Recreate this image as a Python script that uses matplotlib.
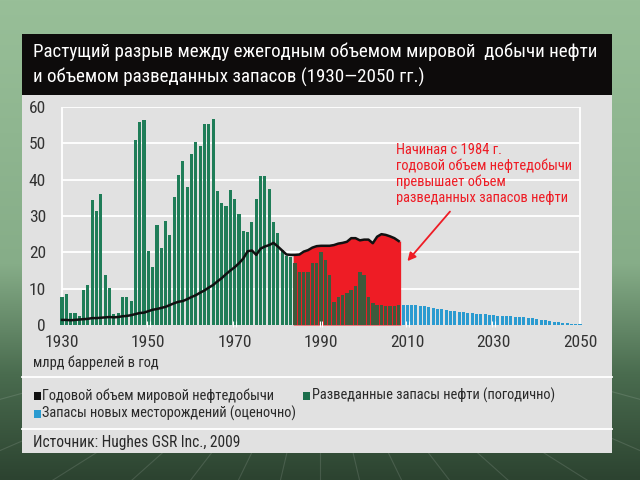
import numpy as np
import matplotlib
matplotlib.use("Agg")
import matplotlib.pyplot as plt
from matplotlib import font_manager
from matplotlib.ft2font import FT2Font
from matplotlib.patches import Rectangle
from matplotlib.colors import LinearSegmentedColormap

# ---------------- data ----------------
years_hist = list(range(1930, 1984))
reserves_hist = [7.6, 8.5, 3.2, 3.2, 2.5, 9.5, 11.0, 34.5, 31.4, 36.1,
                 13.8, 10.1, 2.9, 3.4, 7.6, 7.8, 6.5, 51.0, 55.9, 56.4,
                 20.3, 16.1, 27.4, 21.1, 28.7, 24.8, 35.1, 41.3, 45.0, 38.0,
                 47.2, 50.3, 49.4, 55.3, 55.4, 56.8, 36.8, 33.7, 32.8, 37.2,
                 34.7, 30.6, 26.0, 25.6, 28.3, 34.7, 41.1, 41.1, 37.5, 28.3,
                 25.3, 20.7, 19.1, 18.8]
years_gap = list(range(1984, 2009))
reserves_gap = [17.0, 14.7, 14.7, 14.7, 17.0, 17.0, 20.2, 17.9, 13.8, 6.4,
                7.8, 8.3, 8.7, 9.6, 10.6, 14.7, 13.8, 7.8, 6.0, 5.5,
                5.5, 5.3, 5.3, 5.3, 5.5]
years_prod = list(range(1930, 2009))
production = [1.4, 1.4, 1.3, 1.4, 1.5, 1.6, 1.7, 1.9, 1.9, 2.0,
              2.1, 2.2, 2.1, 2.2, 2.4, 2.5, 2.7, 3.0, 3.3, 3.4,
              3.8, 4.2, 4.4, 4.7, 5.0, 5.5, 6.0, 6.4, 6.6, 7.1,
              7.7, 8.2, 8.9, 9.5, 10.3, 11.0, 12.0, 12.9, 14.0, 15.0,
              15.9, 17.0, 18.3, 20.3, 20.5, 19.3, 21.0, 21.6, 22.0, 22.6,
              21.6, 20.5, 19.4, 19.3,
              19.3, 19.4, 20.2, 20.6, 21.3, 21.7, 21.8, 21.8, 21.8, 22.0,
              22.4, 22.6, 22.9, 23.9, 23.9, 23.3, 23.5, 23.5, 22.5, 24.3,
              25.0, 24.8, 24.4, 23.9, 23.1]
years_new = list(range(2009, 2051))
new_fields = [5.5, 5.6, 5.6, 5.5, 5.3, 5.1, 4.9, 4.7, 4.5, 4.3,
              4.1, 3.9, 3.8, 3.6, 3.5, 3.3, 3.2, 3.1, 3.0, 2.9,
              2.8, 2.7, 2.6, 2.5, 2.4, 2.4, 2.3, 2.2, 2.1, 2.0,
              1.9, 1.7, 1.5, 1.3, 1.1, 0.9, 0.7, 0.6, 0.5, 0.4,
              0.3, 0.2]
x_ticks = [1930, 1950, 1970, 1990, 2010, 2030, 2050]
y_ticks = [0, 10, 20, 30, 40, 50, 60]

title_lines = ["Растущий разрыв между ежегодным объемом мировой  добычи нефти",
               "и объемом разведанных запасов (1930—2050 гг.)"]
note_lines = ["Начиная с 1984 г.", "годовой объем нефтедобычи",
              "превышает объем", "разведанных запасов нефти"]
unit_label = "млрд баррелей в год"
legend_labels = ["Годовой объем мировой нефтедобычи",
                 "Разведанные запасы нефти (погодично)",
                 "Запасы новых месторождений (оценочно)"]
source = "Источник: Hughes GSR Inc., 2009"

# ---------------- font choice ----------------
prefs = ["Roboto Condensed", "PT Sans Narrow", "Fira Sans Condensed",
         "IBM Plex Sans Condensed", "Open Sans Condensed", "Sofia Sans Condensed",
         "Liberation Sans Narrow", "Arimo Narrow", "Oswald"]
cands = {}
for f in font_manager.fontManager.ttflist:
    if f.style == "normal" and f.weight in (400, "normal", "regular"):
        cands.setdefault(f.name, f.fname)
chosen = None
for p in prefs:
    if p in cands:
        try:
            ft = FT2Font(cands[p])
            if ft.get_char_index(ord("Д")) and ft.get_char_index(ord("ж")):
                chosen = p
                break
        except Exception:
            pass
if chosen:
    FONT = dict(family=[chosen, "DejaVu Sans"])
else:
    FONT = dict(family=["DejaVu Sans"], stretch="condensed")

GREEN = "#1f7d58"
DKGREEN = "#3e5a3c"
RED = "#ee1c25"
BLUE = "#2b9bd0"
PANEL = "#e1e1e1"
TXT = "#2a2a2a"
W, H = 640, 480


def fx(px):
    return px / W


def fy(py):
    return 1 - py / H


fig = plt.figure(figsize=(6.4, 4.8), dpi=100)
renderer = fig.canvas.get_renderer()


def fit_size(text, width_px, base=10.0):
    t = fig.text(0, 0, text, fontsize=base, **FONT)
    w = t.get_window_extent(renderer).width
    t.remove()
    return base * width_px / w


# slide background gradient
bg = fig.add_axes([0, 0, 1, 1], zorder=-10)
cmap = LinearSegmentedColormap.from_list(
    "slide", [(0, "#98bf98"), (0.55, "#86ad88"), (0.78, "#4a6c4f"), (1, "#2c4330")])
grad = np.linspace(0, 1, 256).reshape(-1, 1)
bg.imshow(grad, aspect="auto", cmap=cmap, extent=[0, 1, 0, 1], origin="upper")
for ang in np.linspace(-70, 70, 15):
    t = np.deg2rad(ang)
    bg.plot([0.5, 0.5 + 0.9 * np.sin(t)], [0.35, 0.35 - 0.9 * np.cos(t)],
            color="#ffffff", alpha=0.12, lw=0.8)
bg.set_xlim(0, 1)
bg.set_ylim(0, 1)
bg.axis("off")

# panel and title bar
fig.patches.append(Rectangle((fx(22), fy(453)), fx(612) - fx(22), fy(95) - fy(453),
                             transform=fig.transFigure, facecolor=PANEL,
                             edgecolor="none", zorder=-5))
fig.patches.append(Rectangle((fx(22), fy(95)), fx(612) - fx(22), fy(34) - fy(95),
                             transform=fig.transFigure, facecolor="#0d0b0b",
                             edgecolor="none", zorder=-5))
for py in (377, 429):
    fig.add_artist(plt.Line2D([fx(22), fx(612)], [fy(py), fy(py)],
                              color="white", lw=1.3, transform=fig.transFigure))

ts = fit_size(title_lines[0], 566)
for line, py in zip(title_lines, (52, 77)):
    fig.text(fx(33), fy(py), line, color="white", fontsize=ts, va="center",
             ha="left", **FONT)

# ---------------- chart ----------------
ppy = (580 - 62) / 120.0
ax_l, ax_r, ax_t, ax_b = 55, 598, 107, 325
ax = fig.add_axes([fx(ax_l), fy(ax_b), fx(ax_r) - fx(ax_l), fy(ax_t) - fy(ax_b)])
ax.set_xlim(1930 - (62 - ax_l) / ppy, 2050 + (ax_r - 580) / ppy)
ax.set_ylim(0, 60)
ax.patch.set_alpha(0)
for s in ax.spines.values():
    s.set_visible(False)

ax.hlines(y_ticks[1:], 1930, 2050, color="white", lw=1.3, zorder=0)
ax.vlines([1930, 2050], 0, 60, color="white", lw=1.3, zorder=0)
for xt in x_ticks[1:-1]:
    ax.vlines([xt - 0.3, xt + 0.3], -0.6, 1.2, color="white", lw=0.8,
              zorder=5, clip_on=False)

ax.bar(years_hist, reserves_hist, width=0.72, color=GREEN, zorder=2)

gx = np.concatenate([[years_gap[0] - 0.45], years_gap, [years_gap[-1] + 0.45]])
gp = production[len(years_hist):]
gy = np.concatenate([[gp[0]], gp, [gp[-1]]])
ax.fill_between(gx, 0, gy, color=RED, lw=0, zorder=1.5)
ax.bar(years_gap, reserves_gap, width=0.8, color=DKGREEN, zorder=2)
ax.bar(years_new, new_fields, width=0.7, color=BLUE, zorder=2)
ax.plot(years_prod, production, color="#111111", lw=1.8, zorder=4,
        solid_joinstyle="round")

tick_fs = fit_size("1930", 34)
ax.set_xticks(x_ticks)
ax.set_xticklabels([str(v) for v in x_ticks], fontsize=tick_fs, color="#333333", **FONT)
ax.set_yticks(y_ticks)
ax.set_yticklabels([str(v) for v in y_ticks], fontsize=tick_fs, color="#333333", **FONT)
ax.tick_params(axis="x", length=0, pad=7)
ax.tick_params(axis="y", length=0, pad=6.5)

note_fs = fit_size(note_lines[1], 177)
for i, line in enumerate(note_lines):
    fig.text(fx(396), fy(150 + 16 * i), line, color=RED, fontsize=note_fs,
             va="center", ha="left", **FONT)
ax.annotate("", xy=(2009.6, 17.0), xytext=(2020.3, 31.8),
            arrowprops=dict(arrowstyle="-|>", color=RED, lw=1.3,
                            mutation_scale=12))

# ---------------- legend & notes ----------------
unit_fs = fit_size(unit_label, 126)
fig.text(fx(33), fy(363), unit_label, fontsize=unit_fs, color=TXT,
         va="center", ha="left", **FONT)
leg_fs = fit_size(legend_labels[0], 234)
leg_items = [(34, 395.5, "#111111", legend_labels[0]),
             (303, 395.5, "#1b6e4c", legend_labels[1]),
             (34, 413.5, BLUE, legend_labels[2])]
for px, py, col, lab in leg_items:
    fig.patches.append(Rectangle((fx(px), fy(py + 4)), fx(7), 8 / H,
                                 transform=fig.transFigure, facecolor=col,
                                 edgecolor="none"))
    fig.text(fx(px + 8.5), fy(py), lab, fontsize=leg_fs, color=TXT,
             va="center", ha="left", **FONT)
src_fs = fit_size(source, 208)
fig.text(fx(33), fy(442), source, fontsize=src_fs, color=TXT,
         va="center", ha="left", **FONT)

fig.savefig("out.png", dpi=100)
